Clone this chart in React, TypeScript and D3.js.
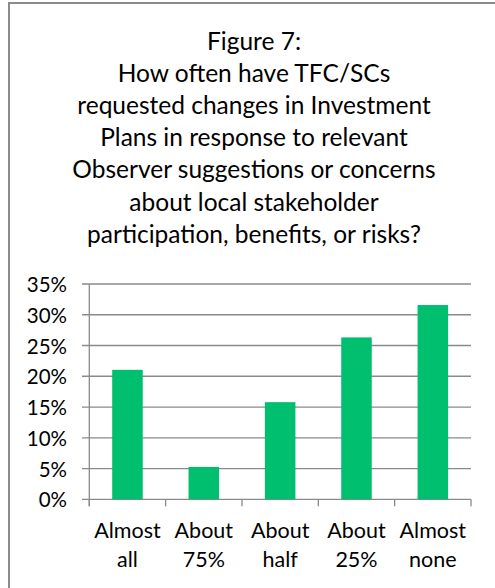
import React from "react";
import * as d3 from "d3";

const categories = [["Almost", "all"], ["About", "75%"], ["About", "half"], ["About", "25%"], ["Almost", "none"]];
const values = [0.2105, 0.0526, 0.1579, 0.2632, 0.3158];
const yTicks = [0, 0.05, 0.1, 0.15, 0.2, 0.25, 0.3, 0.35];
const titleLines = [
  "Figure 7:",
  "How often have TFC/SCs",
  "requested changes in Investment",
  "Plans in response to relevant",
  "Observer suggestions or concerns",
  "about local stakeholder",
  "participation, benefits, or risks?",
];

const W = 495;
const H = 588;
const FONT = "Lato, 'Open Sans', sans-serif";

export default function App() {
  const keys = categories.map((c) => c.join(" "));
  const x = d3.scaleBand<string>().domain(keys).range([89.3, 471]).paddingInner(0.6).paddingOuter(0.3);
  const y = d3.scaleLinear().domain([0, 0.35]).range([499.3, 284]);
  const fmt = d3.format(".0%");
  const step = x.step();
  const boundaries = d3.range(keys.length + 1).map((i) => 89.3 + i * step);
  const gridColor = "#8a8a8a";

  return (
    <svg width={W} height={H} style={{ position: "absolute", left: 0, top: 0, background: "#fff" }} fontFamily={FONT}>
      <rect x={0} y={0} width={W} height={H} fill="#fff" />
      <rect x={9} y={3} width={W + 20} height={H + 20} fill="none" stroke="#8c8c8c" strokeWidth={2} />
      {titleLines.map((t, i) => (
        <text key={i} x={254} y={40 + i * 32.2} textAnchor="middle" dominantBaseline="central" fontSize={24.5} fill="#000">
          {t}
        </text>
      ))}
      {yTicks.map((t) => (
        <g key={t}>
          <line x1={82} x2={471} y1={y(t)} y2={y(t)} stroke={gridColor} strokeWidth={1.3} />
          <text x={67} y={y(t)} textAnchor="end" dominantBaseline="central" fontSize={20.5} fill="#000">
            {fmt(t)}
          </text>
        </g>
      ))}
      <line x1={89.3} x2={89.3} y1={y(0.35)} y2={y(0) + 7} stroke={gridColor} strokeWidth={1.3} />
      {boundaries.map((b, i) => (
        <line key={i} x1={b} x2={b} y1={y(0)} y2={y(0) + 7} stroke={gridColor} strokeWidth={1.3} />
      ))}
      {values.map((v, i) => (
        <rect key={i} x={x(keys[i])} y={y(v)} width={x.bandwidth()} height={y(0) - y(v)} fill="#00BF6F" />
      ))}
      {categories.map((c, i) => (
        <g key={i}>
          {c.map((line, j) => (
            <text
              key={j}
              x={(x(keys[i]) as number) + x.bandwidth() / 2}
              y={530 + j * 29}
              textAnchor="middle"
              dominantBaseline="central"
              fontSize={21.5}
              fill="#000"
            >
              {line}
            </text>
          ))}
        </g>
      ))}
    </svg>
  );
}
